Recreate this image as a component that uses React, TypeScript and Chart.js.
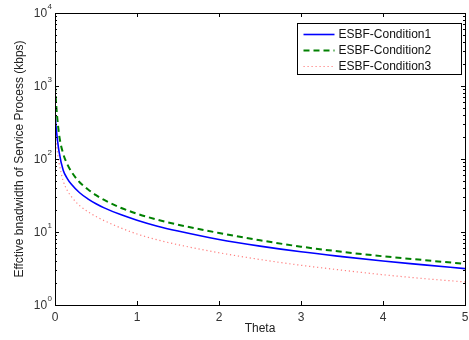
import React, { useEffect, useRef } from 'react';
import { Chart, registerables } from 'chart.js';

Chart.register(...registerables);

const theta = [0, 0.02, 0.05, 0.1, 0.15, 0.2, 0.3, 0.4, 0.5, 0.6, 0.8, 1, 1.25, 1.5, 2, 2.5, 3, 3.5, 4, 4.5, 5];
const condition1 = [400, 230, 125, 70, 54, 45, 34.5, 28.5, 24.4, 21.4, 17.3, 14.5, 12.0, 10.3, 7.9, 6.4, 5.35, 4.6, 4.0, 3.55, 3.15];
const condition2 = [1000, 460, 215, 118, 85, 67, 48, 38.5, 32, 27.5, 21.5, 17.8, 14.7, 12.6, 9.7, 7.7, 6.3, 5.35, 4.65, 4.12, 3.66];
const condition3 = [240, 150, 88, 50, 37, 30.5, 23, 19, 16.3, 14.3, 11.4, 9.4, 7.8, 6.7, 5.2, 4.2, 3.5, 3.0, 2.6, 2.3, 2.07];
const seriesNames = ['ESBF-Condition1', 'ESBF-Condition2', 'ESBF-Condition3'];
const xTickValues = [0, 1, 2, 3, 4, 5];
const yDecades = [0, 1, 2, 3, 4];
const xTitle = 'Theta';
const yTitle = 'Effctive bnadwidth of Service Process (kbps)';

const FONT = '"Liberation Sans", Arial, Helvetica, sans-serif';

const framePlugin = {
  id: 'matlabFrame',
  afterDraw(chart: any) {
    const { ctx, chartArea: a, scales } = chart;
    const xs = scales.x;
    const ys = scales.y;
    ctx.save();
    ctx.strokeStyle = '#000';
    ctx.lineWidth = 1;
    ctx.strokeRect(Math.round(a.left) + 0.5, Math.round(a.top) + 0.5, Math.round(a.right - a.left), Math.round(a.bottom - a.top));
    ctx.beginPath();
    for (const v of xTickValues) {
      const px = Math.round(xs.getPixelForValue(v)) + 0.5;
      ctx.moveTo(px, a.bottom);
      ctx.lineTo(px, a.bottom - 4);
      ctx.moveTo(px, a.top);
      ctx.lineTo(px, a.top + 4);
    }
    for (const d of yDecades) {
      for (let m = 1; m <= 9; m++) {
        if (d === 4 && m > 1) break;
        const val = m * Math.pow(10, d);
        const py = Math.round(ys.getPixelForValue(val)) + 0.5;
        const len = m === 1 ? 4 : 2;
        ctx.moveTo(a.left, py);
        ctx.lineTo(a.left + len, py);
        ctx.moveTo(a.right, py);
        ctx.lineTo(a.right - len, py);
      }
    }
    ctx.stroke();

    // y labels 10^n
    ctx.fillStyle = '#333';
    ctx.textBaseline = 'middle';
    for (const d of yDecades) {
      const py = ys.getPixelForValue(Math.pow(10, d));
      ctx.font = '8px ' + FONT;
      const ew = ctx.measureText(String(d)).width;
      const right = a.left - 3;
      ctx.textAlign = 'right';
      ctx.fillText(String(d), right, py - 6);
      ctx.font = '12px ' + FONT;
      ctx.fillText('10', right - ew - 0.5, py + 1);
    }

    // x title
    ctx.font = '12px ' + FONT;
    ctx.textAlign = 'center';
    ctx.textBaseline = 'middle';
    ctx.fillStyle = '#222';
    ctx.fillText(xTitle, (a.left + a.right) / 2, 329);

    // y title
    ctx.save();
    ctx.translate(20, (a.top + a.bottom) / 2);
    ctx.rotate(-Math.PI / 2);
    ctx.fillText(yTitle, 0, 0);
    ctx.restore();

    // legend
    const lw = 164, lh = 51;
    const lx = Math.round(a.right - 4 - lw) + 0.5;
    const ly = Math.round(a.top + 10) + 0.5;
    ctx.fillStyle = '#fff';
    ctx.fillRect(lx, ly, lw, lh);
    ctx.strokeStyle = '#000';
    ctx.lineWidth = 1;
    ctx.setLineDash([]);
    ctx.strokeRect(lx, ly, lw, lh);
    chart.data.datasets.forEach((ds: any, i: number) => {
      const cy = Math.round(ly + 10 + i * 16) + 0.5;
      ctx.save();
      ctx.strokeStyle = ds.borderColor;
      ctx.lineWidth = ds.borderWidth;
      ctx.setLineDash(ds.borderDash || []);
      ctx.beginPath();
      ctx.moveTo(lx + 6, cy);
      ctx.lineTo(lx + 37, cy);
      ctx.stroke();
      ctx.restore();
      ctx.fillStyle = '#111';
      ctx.font = '12px ' + FONT;
      ctx.textAlign = 'left';
      ctx.textBaseline = 'middle';
      ctx.fillText(ds.label, lx + 41, cy + 0.5);
    });
    ctx.restore();
  },
};

export default function App() {
  const ref = useRef<HTMLCanvasElement | null>(null);
  useEffect(() => {
    document.body.style.margin = '0';
    const canvas = ref.current;
    if (!canvas) return;
    const mk = (vals: number[]) => theta.map((t, i) => ({ x: t, y: vals[i] }));
    const chart = new Chart(canvas, {
      type: 'line',
      data: {
        datasets: [
          { label: seriesNames[0], data: mk(condition1), borderColor: '#0000ff', borderWidth: 1.6, pointRadius: 0, cubicInterpolationMode: 'monotone', fill: false },
          { label: seriesNames[1], data: mk(condition2), borderColor: '#008000', borderWidth: 2, borderDash: [6, 4], pointRadius: 0, cubicInterpolationMode: 'monotone', fill: false },
          { label: seriesNames[2], data: mk(condition3), borderColor: '#ff7f7f', borderWidth: 1.2, borderDash: [1.2, 2.8], pointRadius: 0, cubicInterpolationMode: 'monotone', fill: false },
        ],
      },
      options: {
        animation: false,
        responsive: false,
        devicePixelRatio: 1,
        layout: { padding: { top: 13, right: 4, left: 0, bottom: 0 } },
        plugins: { legend: { display: false }, tooltip: { enabled: false } },
        scales: {
          x: {
            type: 'linear',
            min: 0,
            max: 5,
            grid: { display: true, drawOnChartArea: false, drawTicks: true, tickLength: 0, color: 'rgba(0,0,0,0)' },
            border: { display: false },
            ticks: { stepSize: 1, padding: 5, color: '#333', font: { family: FONT, size: 12 }, maxRotation: 0 },
            afterFit: (s: any) => { s.height = 35; s.paddingLeft = 0; s.paddingRight = 0; },
          },
          y: {
            type: 'logarithmic',
            min: 1,
            max: 10000,
            grid: { display: false },
            border: { display: false },
            ticks: { display: false },
            afterFit: (s: any) => { s.width = 55; s.paddingTop = 0; s.paddingBottom = 0; },
          },
        },
      },
      plugins: [framePlugin],
    } as any);
    return () => chart.destroy();
  }, []);
  return (
    <div style={{ width: 469, height: 340 }}>
      <canvas ref={ref} width={469} height={340} style={{ display: 'block', width: 469, height: 340 }} />
    </div>
  );
}
